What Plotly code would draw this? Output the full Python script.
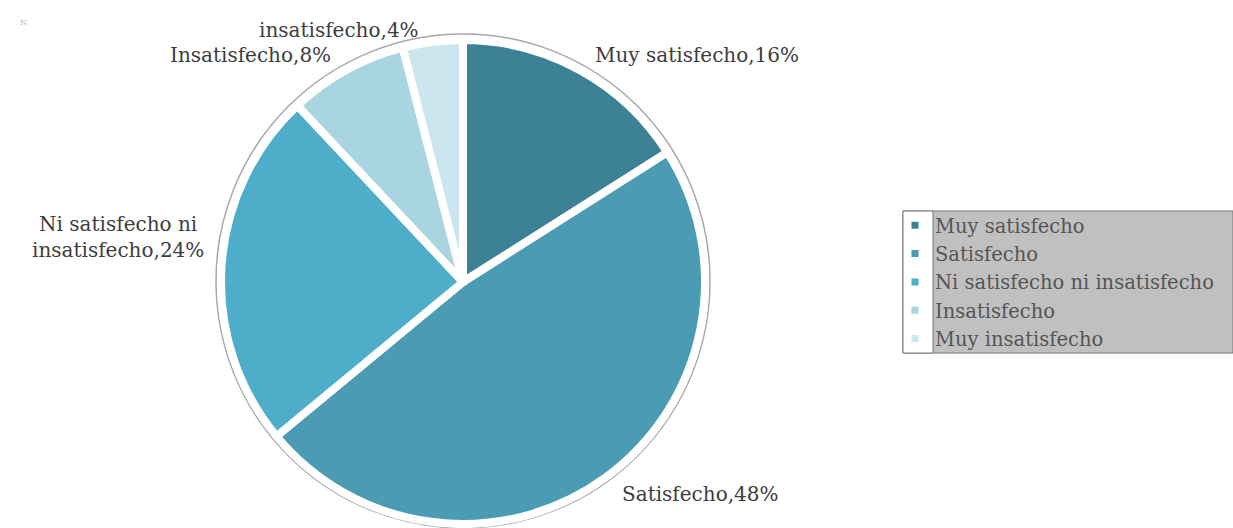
import plotly.graph_objects as go

# ---- data ----
categories = ["Muy satisfecho", "Satisfecho", "Ni satisfecho ni insatisfecho",
              "Insatisfecho", "Muy insatisfecho"]
values = [16, 48, 24, 8, 4]
slice_labels = ["Muy satisfecho,16%", "Satisfecho,48%",
                "Ni satisfecho ni<br>insatisfecho,24%", "Insatisfecho,8%",
                "insatisfecho,4%"]

# ---- styles ----
colors = ["#3c8196", "#4a9bb3", "#4eadc8", "#a9d5e1", "#cbe6ee"]
W, H = 1233, 528
FONT = "DejaVu Serif"
TEXT_COLOR = "#3d3d3d"

# label anchor positions in pixels (x, y, xanchor)
label_pos = [(593, 55, "left"), (620, 494, "left"), (118, 237, "center"),
             (168, 55, "left"), (257, 30, "left")]

def px(x):
    return x / W

def py(y):
    return 1 - y / H

cx, cy, r = 463, 282, 242
fig = go.Figure()
fig.add_trace(go.Pie(
    labels=categories,
    values=values,
    sort=False,
    direction="clockwise",
    rotation=0,
    textinfo="none",
    hoverinfo="label+percent",
    marker=dict(colors=colors, line=dict(color="white", width=8)),
    domain=dict(x=[px(cx - r), px(cx + r)], y=[py(cy + r), py(cy - r)]),
))

annotations = []
for txt, (x, y, xa) in zip(slice_labels, label_pos):
    annotations.append(dict(
        text=txt, x=px(x), y=py(y), xref="paper", yref="paper",
        xanchor=xa, yanchor="middle", showarrow=False, align="center",
        font=dict(family=FONT, size=20, color=TEXT_COLOR),
    ))
annotations.append(dict(text="N", x=px(18), y=py(16), xref="paper", yref="paper",
                        showarrow=False, textangle=0,
                        font=dict(family=FONT, size=8, color="#bbbbbb")))

# outer circle and legend background
ocx, ocy, orr = 463, 281, 247
shapes = [
    dict(type="circle", xref="paper", yref="paper",
         x0=px(ocx - orr), x1=px(ocx + orr), y0=py(ocy + orr), y1=py(ocy - orr),
         line=dict(color="#a8a8a8", width=1.5), fillcolor="rgba(0,0,0,0)", layer="below"),
    dict(type="rect", xref="paper", yref="paper",
         x0=px(903), x1=px(1233), y0=py(353), y1=py(211),
         line=dict(color="#777777", width=1), fillcolor="#c0c0c0", layer="below"),
    dict(type="rect", xref="paper", yref="paper",
         x0=px(903), x1=px(933), y0=py(353), y1=py(211),
         line=dict(color="#777777", width=1), fillcolor="#ffffff", layer="below"),
]

fig.update_layout(
    width=W, height=H,
    margin=dict(l=0, r=0, t=0, b=0),
    paper_bgcolor="white",
    plot_bgcolor="white",
    showlegend=True,
    legend=dict(x=px(895), y=py(206), xanchor="left", yanchor="top",
                bgcolor="rgba(0,0,0,0)", borderwidth=0,
                font=dict(family=FONT, size=19.5, color="#555555"),
                itemwidth=30, tracegroupgap=0),
    annotations=annotations,
    shapes=shapes,
)

fig.write_html("out.html")
